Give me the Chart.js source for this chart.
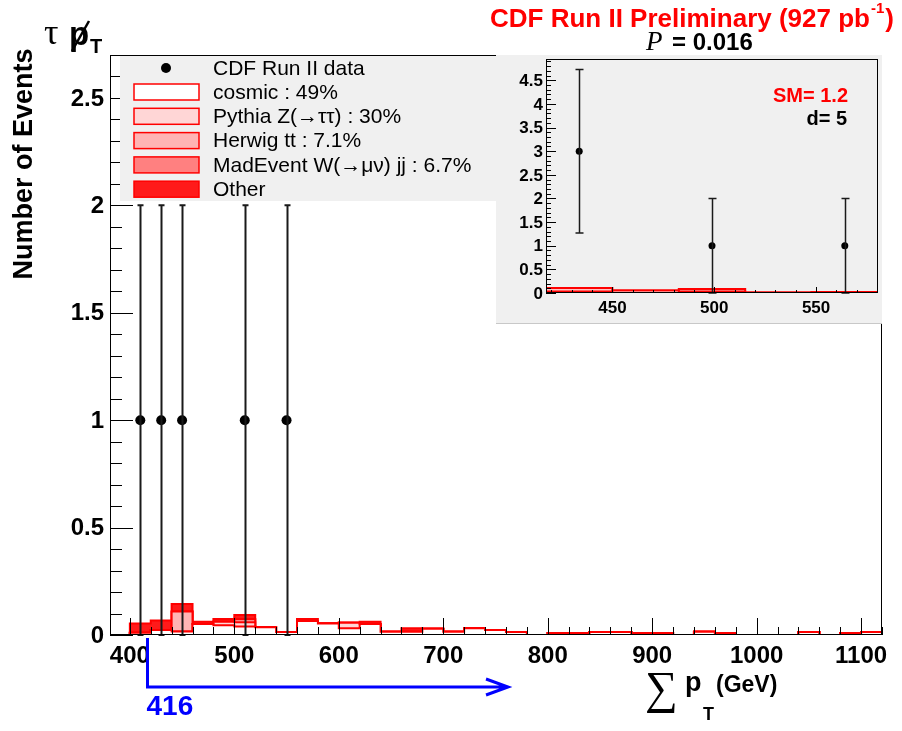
<!DOCTYPE html>
<html>
<head>
<meta charset="utf-8">
<title>tau MET sum pT</title>
<script src="https://cdn.jsdelivr.net/npm/chart.js@4.4.1/dist/chart.umd.min.js"></script>
<style>
  html, body { margin: 0; padding: 0; background: #fff; }
  #wrap { position: relative; width: 902px; height: 731px; }
  #main { position: absolute; left: 0; top: 0; }
  #pad { position: absolute; left: 496px; top: 55px; width: 386px; height: 268px; background: #f0f0f0; border-bottom: 1px solid #c8c8c8; }
  #inset { position: absolute; left: 0; top: 0; }
</style>
</head>
<body>
<div id="wrap">
  <canvas id="main" width="902" height="731"></canvas>
  <div id="pad"><canvas id="inset" width="386" height="268"></canvas></div>
</div>
<script>
// --- main histogram: 20 GeV bins ---
const binLow = [380, 400, 420, 440, 460, 480, 500, 520, 540, 560, 580, 600, 620, 640, 660, 680, 700, 720, 740,
                760, 780, 800, 820, 840, 860, 880, 900, 920, 940, 960, 980, 1000, 1020, 1040, 1060, 1080, 1100];
const binHigh = 1120;

const cosmic    = [0, 0.011, 0.023, 0.016, 0.051, 0.045, 0.039, 0.036, 0.014, 0.065, 0.053, 0.031, 0.051, 0.0155, 0.0155, 0.029, 0.0155, 0.031, 0.023,
                   0.014, 0, 0.009, 0.009, 0.014, 0.014, 0.009, 0.009, 0, 0.015, 0.009, 0, 0, 0, 0.014, 0, 0.009, 0.014];
const pythiaZ   = [0, 0, 0, 0, 0, 0.017, 0.02, 0, 0, 0, 0, 0.026, 0, 0, 0, 0, 0, 0, 0,
                   0, 0, 0, 0, 0, 0, 0, 0, 0, 0, 0, 0, 0, 0, 0, 0, 0, 0];
const herwigTT  = [0, 0, 0, 0.093, 0, 0, 0.014, 0, 0, 0, 0, 0, 0, 0, 0, 0, 0, 0, 0,
                   0, 0, 0, 0, 0, 0, 0, 0, 0, 0, 0, 0, 0, 0, 0, 0, 0, 0];
const madEventW = [0, 0, 0, 0, 0, 0, 0, 0, 0, 0, 0, 0, 0, 0, 0, 0, 0, 0, 0,
                   0, 0, 0, 0, 0, 0, 0, 0, 0, 0, 0, 0, 0, 0, 0, 0, 0, 0];
const other     = [0, 0.043, 0.044, 0.035, 0.011, 0.012, 0.02, 0, 0, 0.009, 0, 0, 0.011, 0, 0.0155, 0, 0, 0, 0,
                   0, 0, 0, 0, 0, 0, 0, 0, 0, 0, 0, 0, 0, 0, 0, 0, 0, 0];

const dataX   = [410, 430, 450, 510, 550];
const dataY   = [1, 1, 1, 1, 1];
const dataErr = [1, 1, 1, 1, 1];

const xTicks = [400, 500, 600, 700, 800, 900, 1000, 1100];
const yTicks = [0, 0.5, 1, 1.5, 2, 2.5];
const yTickLabels = ['0', '0.5', '1', '1.5', '2', '2.5'];

const cutValue = 416;
const cutArrowEnd = 762;

// --- inset: region above the cut ---
const insetEdges  = [417.4, 450, 482.6, 515.2, 547.8, 580.4];
const insetCosmic = [0.03, 0.055, 0.03, 0.01, 0.02];
const insetZ      = [0.075, 0, 0.055, 0, 0];
const insetX      = [433.7, 498.9, 564.1];
const insetY      = [3, 1, 1];
const insetErr    = [1.73, 1, 1];
const insetXTicks = [450, 500, 550];
const insetYTicks = [0, 0.5, 1, 1.5, 2, 2.5, 3, 3.5, 4, 4.5];

const smTotal = '1.2';
const nData = '5';

const SANS = "'Liberation Sans', Arial, Helvetica, sans-serif";
const SERIF = "'Liberation Serif', 'DejaVu Serif', serif";
const RED = '#ff0000';

function steps(lows, high, vals) {
  const pts = lows.map((x, i) => ({ x, y: vals[i] }));
  pts.push({ x: high, y: vals[vals.length - 1] });
  return pts;
}

function stackLayers(lows, high, layers) {
  let running = lows.map(() => 0);
  return layers.map((l, k) => {
    running = running.map((s, i) => s + l.values[i]);
    return {
      type: 'line', label: l.label, data: steps(lows, high, running), stepped: true,
      borderColor: RED, borderWidth: 2, backgroundColor: l.fill,
      fill: k === 0 ? 'origin' : '-1', pointRadius: 0, order: 2
    };
  });
}

function drawAxes(chart, c) {
  const { ctx, chartArea: a, scales: { x, y } } = chart;
  ctx.save();
  ctx.strokeStyle = '#000';
  ctx.lineWidth = 1;
  ctx.strokeRect(a.left + 0.5, a.top + 0.5, a.right - a.left - 1, a.bottom - a.top - 1);
  ctx.beginPath();
  for (let v = c.yMinorFrom; v <= y.max + 1e-9; v += c.yMinorStep) {
    const py = Math.round(y.getPixelForValue(v)) + 0.5;
    const major = c.yTicks.some(t => Math.abs(t - v) < 1e-6);
    ctx.moveTo(a.left, py);
    ctx.lineTo(a.left + (major ? c.yMajorLen : c.yMinorLen), py);
  }
  for (let v = c.xMinorFrom; v <= x.max + 1e-9; v += c.xMinorStep) {
    const px = Math.round(x.getPixelForValue(v)) + 0.5;
    const major = c.xTicks.some(t => Math.abs(t - v) < 1e-6);
    ctx.moveTo(px, a.bottom);
    ctx.lineTo(px, a.bottom - (major ? c.xMajorLen : c.xMinorLen));
  }
  ctx.stroke();

  ctx.fillStyle = '#000';
  ctx.font = c.font;
  ctx.textAlign = 'right';
  ctx.textBaseline = 'middle';
  c.yTicks.forEach((v, i) => ctx.fillText(c.yLabels[i], a.left - c.yGap, y.getPixelForValue(v) + 1));
  ctx.textAlign = 'center';
  c.xTicks.forEach(v => ctx.fillText(String(v), x.getPixelForValue(v), a.bottom + c.xGap));
  ctx.restore();
}

function drawErrors(chart, xs, ys, errs, width, cap) {
  const { ctx, scales: { x, y } } = chart;
  ctx.save();
  ctx.strokeStyle = '#1a1a1a';
  ctx.lineWidth = width;
  ctx.beginPath();
  xs.forEach((xv, i) => {
    const px = Math.round(x.getPixelForValue(xv)) + 0.5;
    const top = y.getPixelForValue(ys[i] + errs[i]);
    const bot = y.getPixelForValue(Math.max(0, ys[i] - errs[i]));
    ctx.moveTo(px, top); ctx.lineTo(px, bot);
    ctx.moveTo(px - cap, top); ctx.lineTo(px + cap, top);
    ctx.moveTo(px - cap, bot); ctx.lineTo(px + cap, bot);
  });
  ctx.stroke();
  ctx.restore();
}

const mainLayers = [
  { label: 'cosmic : 49%', values: cosmic, fill: '#ffffff' },
  { label: 'Pythia Z(\u2192\u03c4\u03c4) : 30%', values: pythiaZ, fill: '#ffd6d6' },
  { label: 'Herwig tt : 7.1%', values: herwigTT, fill: '#ffb4b4' },
  { label: 'MadEvent W(\u2192\u03bc\u03bd) jj : 6.7%', values: madEventW, fill: '#ff8080' },
  { label: 'Other', values: other, fill: '#ff1a1a' }
];

const mainDecor = {
  id: 'mainDecor',
  afterDatasetsDraw(chart) {
    drawErrors(chart, dataX, dataY, dataErr, 2, 3);
    drawAxes(chart, {
      yTicks, yLabels: yTickLabels, yMinorFrom: 0, yMinorStep: 0.1, yMajorLen: 23, yMinorLen: 12,
      xTicks, xMinorFrom: 400, xMinorStep: 20, xMajorLen: 17, xMinorLen: 8,
      font: 'bold 24px ' + SANS, yGap: 6, xGap: 21
    });
  },
  afterDraw(chart) {
    const { ctx, scales: { x } } = chart;
    ctx.save();

    // legend box
    ctx.fillStyle = '#f0f0f0';
    ctx.fillRect(120, 56, 376, 145);
    const rows = chart.data.datasets.slice().sort((p, q) => p.order - q.order);
    const dataSet = rows[0];
    const histSets = chart.data.datasets.filter(d => d.type === 'line');
    ctx.font = '21px ' + SANS;
    ctx.textBaseline = 'middle';
    ctx.textAlign = 'left';
    ctx.fillStyle = '#000';
    ctx.beginPath();
    ctx.arc(166, 68, 5, 0, Math.PI * 2);
    ctx.fill();
    ctx.fillText(dataSet.label, 213, 69);
    histSets.forEach((d, i) => {
      const cy = 92 + i * 24.3;
      ctx.fillStyle = d.backgroundColor;
      ctx.fillRect(134, cy - 8, 65, 16);
      ctx.strokeStyle = RED;
      ctx.lineWidth = 1.5;
      ctx.strokeRect(134, cy - 8, 65, 16);
      ctx.fillStyle = '#000';
      ctx.fillText(d.label, 213, cy + 1);
    });

    // channel label
    ctx.textBaseline = 'alphabetic';
    ctx.font = '36px ' + SERIF;
    ctx.fillText('\u03c4', 44, 44);
    ctx.font = 'bold 33px ' + SANS;
    ctx.fillText('p', 69, 45);
    ctx.lineWidth = 2.5;
    ctx.strokeStyle = '#000';
    ctx.beginPath();
    ctx.moveTo(89, 21); ctx.lineTo(72, 51);
    ctx.stroke();
    ctx.font = 'bold 20px ' + SANS;
    ctx.fillText('T', 90, 53);

    // experiment label
    ctx.fillStyle = RED;
    ctx.font = 'bold 26px ' + SANS;
    const head = 'CDF Run II Preliminary (927 pb';
    ctx.fillText(head, 490, 27);
    let hx = 490 + ctx.measureText(head).width;
    ctx.font = 'bold 15px ' + SANS;
    ctx.fillText('-1', hx + 1, 13);
    hx += ctx.measureText('-1').width + 2;
    ctx.font = 'bold 26px ' + SANS;
    ctx.fillText(')', hx, 27);

    // p-value
    ctx.fillStyle = '#000';
    ctx.font = 'italic 27px ' + SERIF;
    ctx.fillText('P', 646, 50);
    ctx.font = 'bold 24px ' + SANS;
    ctx.fillText('= 0.016', 672, 50);

    // axis titles
    ctx.save();
    ctx.translate(32, 164);
    ctx.rotate(-Math.PI / 2);
    ctx.textAlign = 'center';
    ctx.font = 'bold 27px ' + SANS;
    ctx.fillText('Number of Events', 0, 0);
    ctx.restore();

    ctx.font = '46px ' + SERIF;
    ctx.fillText('\u2211', 645, 703);
    ctx.font = 'bold 27px ' + SANS;
    ctx.fillText('p', 685, 691);
    ctx.font = 'bold 18px ' + SANS;
    ctx.fillText('T', 703, 720);
    ctx.font = 'bold 23px ' + SANS;
    ctx.fillText('(GeV)', 716, 692);

    // cut arrow
    const cx = Math.round(x.getPixelForValue(cutValue)) + 0.5;
    const ex = x.getPixelForValue(cutArrowEnd);
    ctx.strokeStyle = '#0000ff';
    ctx.lineWidth = 3;
    ctx.beginPath();
    ctx.moveTo(cx, 638); ctx.lineTo(cx, 687); ctx.lineTo(ex, 687);
    ctx.moveTo(ex - 22, 679); ctx.lineTo(ex, 687); ctx.lineTo(ex - 22, 695);
    ctx.stroke();
    ctx.fillStyle = '#0000ff';
    ctx.font = 'bold 28px ' + SANS;
    ctx.textBaseline = 'middle';
    ctx.fillText(String(cutValue), cx - 1, 707);

    ctx.restore();
  }
};

new Chart(document.getElementById('main'), {
  type: 'line',
  data: {
    datasets: [
      {
        type: 'scatter', label: 'CDF Run II data', order: 0,
        data: dataX.map((x, i) => ({ x, y: dataY[i] })),
        pointRadius: 5, pointBackgroundColor: '#000', pointBorderWidth: 0, showLine: false
      },
      ...stackLayers(binLow, binHigh, mainLayers)
    ]
  },
  options: {
    responsive: false, animation: false, events: [],
    layout: { padding: { left: 110, top: 55, right: 20, bottom: 96 } },
    scales: {
      x: { type: 'linear', min: 381, max: 1120, display: false },
      y: { type: 'linear', min: 0, max: 2.7, display: false }
    },
    plugins: { legend: { display: false }, tooltip: { enabled: false } }
  },
  plugins: [mainDecor]
});

// --- inset chart ---
const insetDecor = {
  id: 'insetDecor',
  afterDatasetsDraw(chart) {
    drawErrors(chart, insetX, insetY, insetErr, 1.5, 4);
    drawAxes(chart, {
      yTicks: insetYTicks, yLabels: insetYTicks.map(String), yMinorFrom: 0, yMinorStep: 0.1, yMajorLen: 10, yMinorLen: 5,
      xTicks: insetXTicks, xMinorFrom: 420, xMinorStep: 10, xMajorLen: 6, xMinorLen: 3,
      font: 'bold 17px ' + SANS, yGap: 3, xGap: 15
    });
  },
  afterDraw(chart) {
    const { ctx } = chart;
    ctx.save();
    ctx.textAlign = 'right';
    ctx.textBaseline = 'middle';
    ctx.font = 'bold 20px ' + SANS;
    ctx.fillStyle = RED;
    ctx.fillText('SM= ' + smTotal, 352, 41);
    ctx.fillStyle = '#000';
    ctx.fillText('d= ' + nData, 351, 64);
    ctx.restore();
  }
};

new Chart(document.getElementById('inset'), {
  type: 'line',
  data: {
    datasets: [
      {
        type: 'scatter', label: 'data', order: 0,
        data: insetX.map((x, i) => ({ x, y: insetY[i] })),
        pointRadius: 3.5, pointBackgroundColor: '#000', pointBorderWidth: 0, showLine: false
      },
      ...stackLayers(insetEdges.slice(0, -1), insetEdges[insetEdges.length - 1], [
        { label: 'cosmic', values: insetCosmic, fill: '#ffffff' },
        { label: 'Z', values: insetZ, fill: '#ffc4c4' }
      ])
    ]
  },
  options: {
    responsive: false, animation: false, events: [],
    layout: { padding: { left: 50, top: 0, right: 0, bottom: 30 } },
    scales: {
      x: { type: 'linear', min: insetEdges[0], max: insetEdges[insetEdges.length - 1], display: false },
      y: { type: 'linear', min: 0, max: 4.95, display: false }
    },
    plugins: { legend: { display: false }, tooltip: { enabled: false } }
  },
  plugins: [insetDecor]
});
</script>
</body>
</html>
